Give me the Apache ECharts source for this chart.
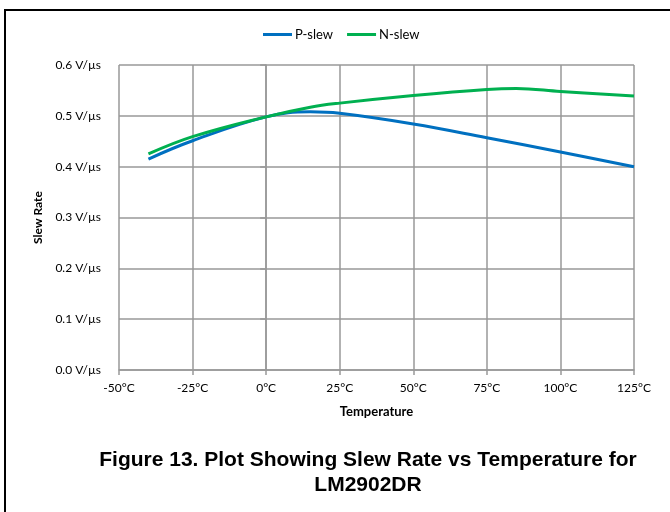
<!DOCTYPE html>
<html><head><meta charset="utf-8">
<script src="https://cdn.jsdelivr.net/npm/echarts@6/dist/echarts.min.js"></script>
<style>
html,body{margin:0;padding:0;background:#fff;}
#frame{position:absolute;left:4px;top:9px;width:670px;height:510px;border-left:2px solid #000;border-top:2px solid #000;}
#chart{position:absolute;left:0;top:0;width:670px;height:512px;}
</style></head>
<body>
<div id="frame"></div>
<div id="chart"></div>
<script>
var seriesNames = ['P-slew', 'N-slew'];
var pTemps = [-40, -25, 0, 15, 25, 50, 75, 100, 125];
var pSlew  = [0.415, 0.451, 0.498, 0.508, 0.505, 0.484, 0.457, 0.429, 0.400];
var nTemps = [-40, -25, 0, 15, 25, 50, 75, 85, 100, 125];
var nSlew  = [0.425, 0.459, 0.498, 0.517, 0.525, 0.540, 0.552, 0.554, 0.548, 0.539];
var xTicks = [-50, -25, 0, 25, 50, 75, 100, 125];
var yTicks = [0.0, 0.1, 0.2, 0.3, 0.4, 0.5, 0.6];
var colors = ['#0070C0', '#00B050'];

function pairs(xs, ys){ return xs.map(function(x,i){ return [x, ys[i]]; }); }

var chart = echarts.init(document.getElementById('chart'), null, {renderer:'canvas'});
var font = 'Lato, "Open Sans", sans-serif';
chart.setOption({
  animation:false,
  backgroundColor:'transparent',
  title:{
    text:'Figure 13. Plot Showing Slew Rate vs Temperature for\nLM2902DR',
    left:368, top:448, textAlign:'center', padding:0,
    textStyle:{fontFamily:'"Liberation Sans", Arial, sans-serif', fontWeight:'bold', fontSize:21, color:'#000', lineHeight:25}
  },
  legend:{
    data:seriesNames, top:28, left:263, padding:0,
    itemWidth:29, itemHeight:3, itemGap:14,
    icon:'rect',
    textStyle:{fontFamily:font, fontSize:13, color:'#000', padding:[0,0,0,-2]}
  },
  grid:{left:119, right:36, top:65, bottom:142, containLabel:false},
  xAxis:{
    type:'value', min:-50, max:125, interval:25,
    name:'Temperature', nameLocation:'middle', nameGap:35,
    nameTextStyle:{fontFamily:font, fontWeight:'bold', fontSize:13, color:'#000'},
    axisLine:{show:true, lineStyle:{color:'#999', width:1.5}},
    axisTick:{show:true, length:5, lineStyle:{color:'#999', width:1.5}},
    splitLine:{show:true, lineStyle:{color:'#999', width:1.5}},
    axisLabel:{fontFamily:font, fontSize:12, color:'#000', margin:12,
      formatter:function(v){ return v + '°C'; }}
  },
  yAxis:{
    type:'value', min:0, max:0.6, interval:0.1,
    name:'Slew Rate', nameLocation:'middle', nameGap:71, nameRotate:90,
    nameTextStyle:{fontFamily:font, fontWeight:'bold', fontSize:12, color:'#000'},
    axisLine:{show:true, lineStyle:{color:'#999', width:1.5}},
    axisTick:{show:true, length:6, lineStyle:{color:'#999', width:1.5}},
    splitLine:{show:true, lineStyle:{color:'#999', width:1.5}},
    axisLabel:{fontFamily:font, fontSize:12, color:'#000', margin:18,
      formatter:function(v){ return v.toFixed(1) + ' V/µs'; }}
  },
  series:[
    {name:seriesNames[0], type:'line', data:pairs(pTemps, pSlew), smooth:0.4,
     showSymbol:false, lineStyle:{color:colors[0], width:3}, itemStyle:{color:colors[0]}},
    {name:seriesNames[1], type:'line', data:pairs(nTemps, nSlew), smooth:0.4,
     showSymbol:false, lineStyle:{color:colors[1], width:3}, itemStyle:{color:colors[1]}}
  ]
});
</script>
</body></html>
